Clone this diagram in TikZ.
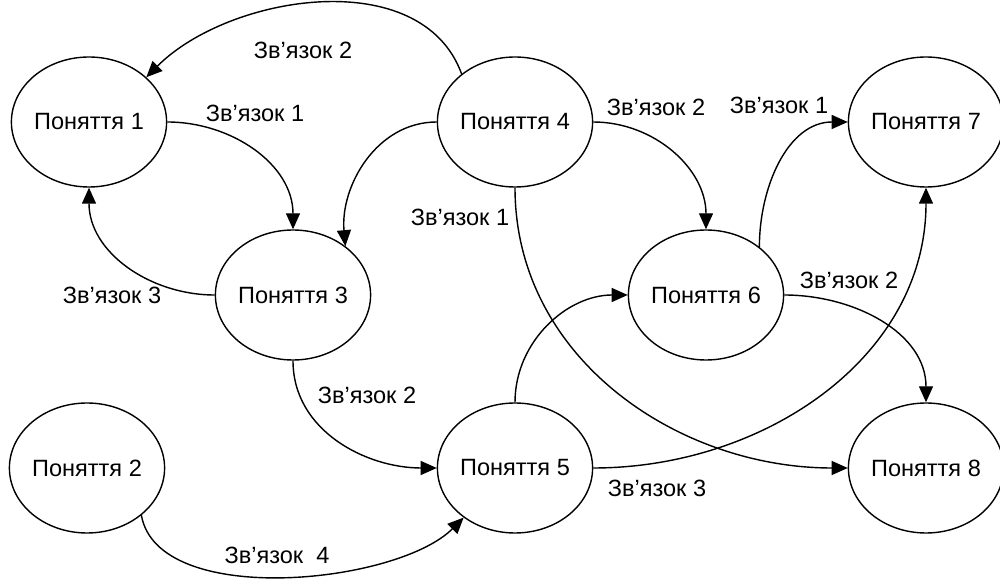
\documentclass[tikz,border=0pt]{standalone}
\usepackage{fontspec}
\setmainfont{Liberation Sans}
\usepackage{tikz}
\usetikzlibrary{shapes.geometric,arrows.meta}

\begin{document}
\begin{tikzpicture}[
    concept/.style = {
      draw,
      ellipse,
      line width     = 0.8pt,
      minimum width  = 3.08cm,
      minimum height = 2.6cm,
      inner sep      = 0pt
    },
    link/.style = {
      line width = 0.8pt,
      -{Triangle[length=0.32cm,width=0.28cm]}
    },
    tag/.style = {inner sep = 0pt},
    font = \fontsize{13.4}{16}\selectfont
  ]
  \useasboundingbox (0,0) rectangle (20,11.66);

  \node[concept] (p1) at (1.78,9.22)  {Поняття 1};
  \node[concept] (p4) at (10.30,9.22) {Поняття 4};
  \node[concept] (p7) at (18.52,9.22) {Поняття 7};
  \node[concept] (p3) at (5.86,5.76)  {Поняття 3};
  \node[concept] (p6) at (14.12,5.76) {Поняття 6};
  \node[concept] (p2) at (1.74,2.30)  {Поняття 2};
  \node[concept] (p5) at (10.30,2.30) {Поняття 5};
  \node[concept] (p8) at (18.52,2.30) {Поняття 8};

  \draw[link] (p4.138) to[out=110,in=45,looseness=0.95] (p1.38);
  \draw[link] (p1.east) to[out=0,in=90] (p3.north);
  \draw[link] (p3.west) to[out=180,in=-90] (p1.south);
  \draw[link] (p4.west) to[out=180,in=95] (p3.43);
  \draw[link] (p4.south) to[out=-90,in=180] (p8.west);
  \draw[link] (p4.east) to[out=0,in=90] (p6.north);
  \draw[link] (p6.42) to[out=90,in=180] (p7.west);
  \draw[link] (p6.east) to[out=0,in=90] (p8.north);
  \draw[link] (p5.east) to[out=0,in=-90] (p7.south);
  \draw[link] (p5.north) to[out=90,in=180] (p6.west);
  \draw[link] (p3.south) to[out=-90,in=180] (p5.west);
  \draw[link] (p2.-41) to[out=-80,in=-135,looseness=0.75] (p5.-136);

  \node[tag] (t41) at (6.06,10.66) {Зв’язок 2};
  \node[tag] (t13) at (5.10,9.40)  {Зв’язок 1};
  \node[tag] (t31) at (2.24,5.76)  {Зв’язок 3};
  \node[tag] (t48) at (9.20,7.32)  {Зв’язок 1};
  \node[tag] (t46) at (13.12,9.52) {Зв’язок 2};
  \node[tag] (t67) at (15.58,9.56) {Зв’язок 1};
  \node[tag] (t68) at (16.98,6.06) {Зв’язок 2};
  \node[tag] (t57) at (13.14,1.90) {Зв’язок 3};
  \node[tag] (t35) at (7.34,3.76)  {Зв’язок 2};
  \node[tag] (t25) at (5.54,0.56)  {Зв’язок\ \ 4};
\end{tikzpicture}
\end{document}
